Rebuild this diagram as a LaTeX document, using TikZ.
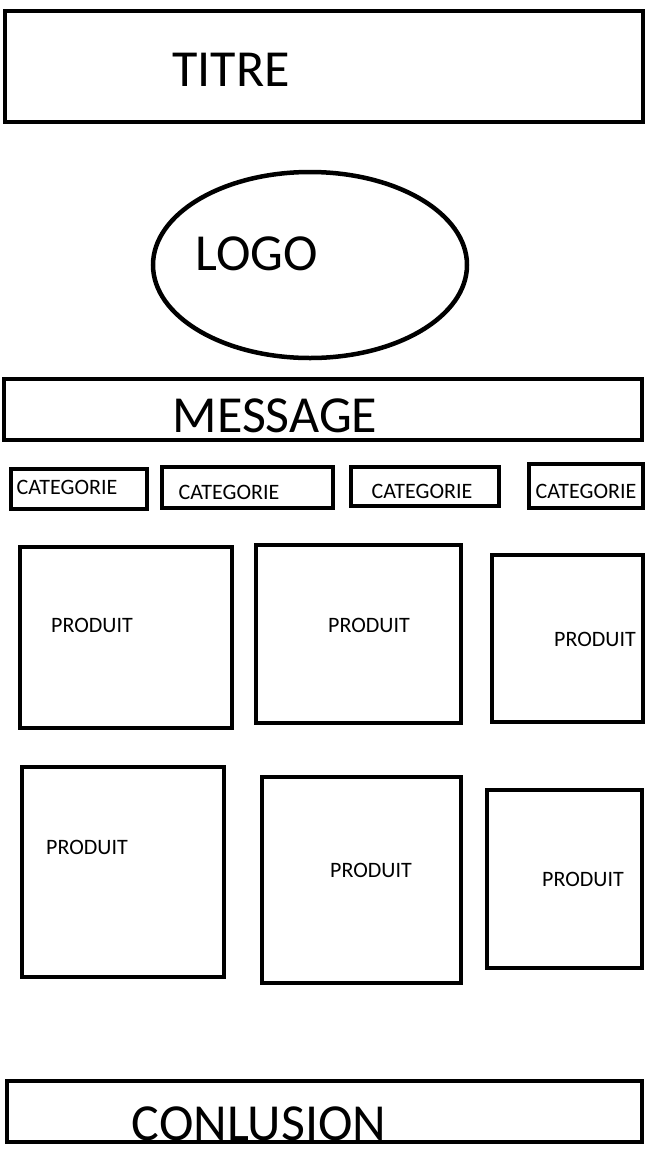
\documentclass[tikz,border=0pt]{standalone}
\usepackage{fontspec}
\setmainfont{Carlito}
\usetikzlibrary{positioning, shapes.geometric}

\tikzset{
  box/.style={draw, line width=4.5pt, rectangle, inner sep=0pt},
  big/.style={inner sep=0pt, font=\fontsize{52}{62}\selectfont},
  small/.style={inner sep=0pt, font=\fontsize{22}{26}\selectfont},
}

\begin{document}
\begin{tikzpicture}[x=1pt,y=-1pt]
  \useasboundingbox (0,0) rectangle (648,1152);
  % header
  \node[box, minimum width=638pt, minimum height=111pt] (titre) at (324,66.5) {};
  \node[big] (titretxt) at (231,70) {TITRE};
  \node[draw, line width=4.5pt, ellipse, minimum width=314pt, minimum height=186pt] (logo) at (310,265) {};
  \node[big] (logotxt) at (257,254) {LOGO};
  \node[box, minimum width=638pt, minimum height=61pt] (message) at (323,409.5) {};
  \node[big] (messagetxt) at (275,416) {MESSAGE};
  % categories
  \node[box, minimum width=136pt, minimum height=40pt] (cat1) at (79,489) {};
  \node[small] (cat1txt) at (67,487) {CATEGORIE};
  \node[box, minimum width=171pt, minimum height=41pt] (cat2) at (247.5,487.5) {};
  \node[small] (cat2txt) at (229,492) {CATEGORIE};
  \node[box, minimum width=148pt, minimum height=39pt] (cat3) at (425,486.5) {};
  \node[small] (cat3txt) at (422,491) {CATEGORIE};
  \node[box, minimum width=114pt, minimum height=44pt] (cat4) at (586,486) {};
  \node[small] (cat4txt) at (586,491) {CATEGORIE};
  % produits
  \node[box, minimum width=212pt, minimum height=181pt] (prod1) at (126,637.5) {};
  \node[small] (prod1txt) at (92,625) {PRODUIT};
  \node[box, minimum width=205pt, minimum height=178pt] (prod2) at (358.5,634) {};
  \node[small] (prod2txt) at (369,625) {PRODUIT};
  \node[box, minimum width=151pt, minimum height=167pt] (prod3) at (567.5,638.5) {};
  \node[small] (prod3txt) at (595,639) {PRODUIT};
  \node[box, minimum width=202pt, minimum height=210pt] (prod4) at (123,872) {};
  \node[small] (prod4txt) at (87,847) {PRODUIT};
  \node[box, minimum width=199pt, minimum height=206pt] (prod5) at (361.5,880) {};
  \node[small] (prod5txt) at (371,870) {PRODUIT};
  \node[box, minimum width=155pt, minimum height=178pt] (prod6) at (564.5,879) {};
  \node[small] (prod6txt) at (583,879) {PRODUIT};
  % footer
  \node[box, minimum width=635pt, minimum height=61pt] (conclusion) at (324.5,1111.5) {};
  \node[big] (conclusiontxt) at (259,1124) {CONLUSION};
\end{tikzpicture}
\end{document}
